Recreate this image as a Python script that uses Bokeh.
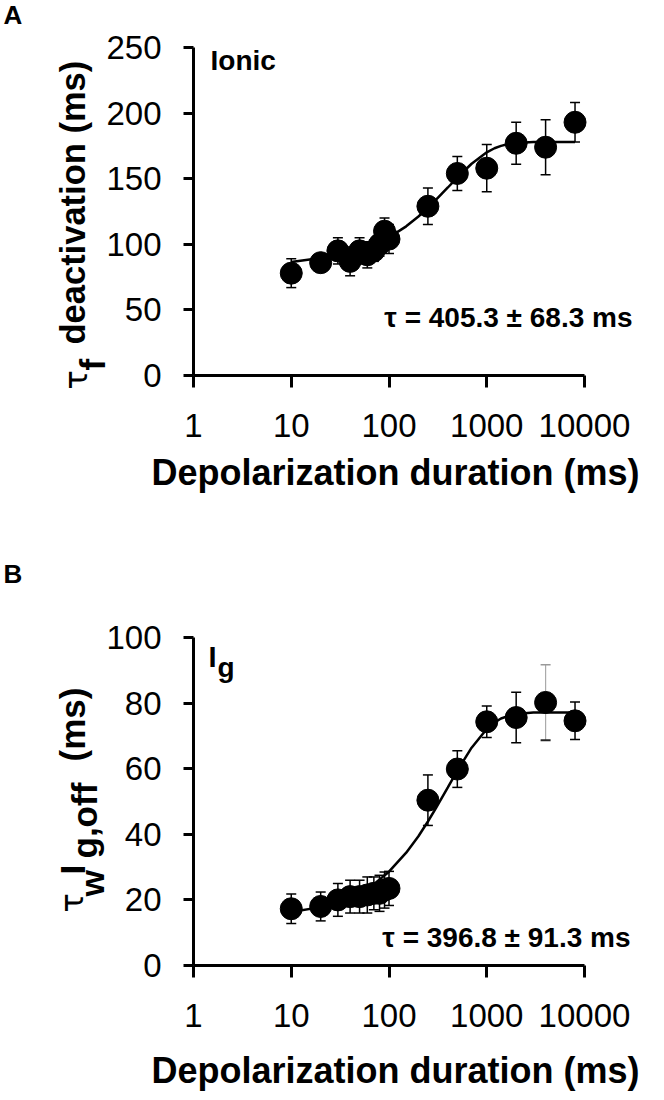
import math
from bokeh.plotting import figure
from bokeh.models import ColumnDataSource, Whisker, TeeHead, Label, FixedTicker
from bokeh.layouts import column
from bokeh.embed import file_html
from bokeh.resources import INLINE

# ---------------- data ----------------
durations = [10, 20, 30, 40, 50, 60, 70, 80, 90, 100, 250, 500, 1000, 2000, 4000, 8000]

tau_f_mean = [78, 86, 95, 87, 95, 92, 95, 100, 110, 104, 129, 154, 158, 177, 174, 193]
tau_f_err = [11, 6, 10, 11, 10, 10, 8, 9, 10, 11, 14, 13, 18, 16, 21, 15]

tau_w_mean = [17.3, 18, 20, 21, 21, 21.5, 22, 22, 23, 23.5, 50.4, 59.9, 74.3, 75.6, 80.2, 74.6]
tau_w_err = [4.5, 4.4, 5, 5, 5, 5.5, 5, 5.5, 5.5, 5.2, 7.7, 5.6, 4.8, 7.7, 11.5, 5.7]

fit_x = [10, 20, 40, 70, 100, 150, 200, 250, 300, 400, 500, 700, 1000, 1200, 1400, 1700, 2000, 3000, 8000]
fit_A = [86.5, 89.5, 93.7, 99.7, 105.3, 113.7, 121.2, 127.8, 133.6, 143.3, 150.9, 161.4, 170.1,
         173.2, 175.0, 176.6, 177.3, 177.9, 178.0]
fit_B = [16.3, 17.8, 20.7, 24.8, 28.6, 34.4, 39.4, 43.9, 47.8, 54.3, 59.4, 66.4, 72.1,
         74.1, 75.3, 76.2, 76.7, 77.1, 77.1]

x_ticks = [1, 10, 100, 1000, 10000]
x_tick_labels = ["1", "10", "100", "1000", "10000"]
yA_ticks = [0, 50, 100, 150, 200, 250]
yB_ticks = [0, 20, 40, 60, 80, 100]

FONT = "Liberation Sans"
GREEK_FONT = "DejaVu Sans"
PAGE_W = 660

# axis geometry in page pixels
AX_L, AX_R = 193, 584          # x = 1 and x = 10000
DECADE = (AX_R - AX_L) / 4.0
FRAME_H = 328


def make_panel(fig_top, fig_h, axis_bottom, ymax, yticks):
    """Figure whose frame is the whole canvas; axes are pinned inside it."""
    x0 = 10 ** ((0 - AX_L) / DECADE)
    x1 = 10 ** ((PAGE_W - AX_L) / DECADE)
    y_of = lambda py: ymax * (axis_bottom - py) / FRAME_H
    p = figure(width=PAGE_W, height=fig_h, x_axis_type="log",
               x_range=(x0, x1), y_range=(y_of(fig_top + fig_h), y_of(fig_top)),
               output_backend="svg", toolbar_location=None,
               min_border=0)
    p.outline_line_color = None
    p.grid.visible = False
    p.background_fill_color = "white"
    p.border_fill_color = "white"

    for ax in (p.xaxis[0], p.yaxis[0]):
        ax.axis_line_width = 3
        ax.major_tick_line_width = 3
        ax.major_tick_in = 0
        ax.minor_tick_line_color = None
        ax.major_label_text_font = FONT
        ax.major_label_text_font_size = "33px"
        ax.major_label_text_color = "black"
        ax.axis_line_color = "black"
        ax.major_tick_line_color = "black"
    xa, ya = p.xaxis[0], p.yaxis[0]
    xa.ticker = FixedTicker(ticks=x_ticks)
    xa.major_label_overrides = {float(t): l for t, l in zip(x_ticks, x_tick_labels)}
    xa.major_tick_out = 12
    xa.major_label_standoff = 26
    xa.bounds = (x_ticks[0], x_ticks[-1])
    xa.fixed_location = 0
    ya.ticker = FixedTicker(ticks=yticks)
    ya.major_tick_out = 10
    ya.major_label_standoff = 22
    ya.bounds = (yticks[0], yticks[-1])
    ya.fixed_location = x_ticks[0]

    def to_data(px, py):
        return 10 ** ((px - AX_L) / DECADE), y_of(py)

    return p, to_data


def add_text(p, to_data, px, py, text, size, bold=True, align="left", angle=0.0,
             font=FONT):
    x, y = to_data(px, py)
    p.add_layout(Label(x=x, y=y, text=text, text_font=font,
                       text_font_size=f"{size}px",
                       text_font_style="bold" if bold else "normal",
                       text_align=align, text_baseline="middle",
                       angle=angle, text_color="black"))


def add_data(p, means, errs, fit_y, gray_idx=None):
    idx_black = [i for i in range(len(durations)) if i != gray_idx]
    src = ColumnDataSource(data=dict(
        x=[durations[i] for i in idx_black],
        lo=[means[i] - errs[i] for i in idx_black],
        hi=[means[i] + errs[i] for i in idx_black]))
    p.add_layout(Whisker(source=src, base="x", lower="lo", upper="hi",
                         line_color="black", line_width=1.5, level="underlay",
                         upper_head=TeeHead(size=10, line_width=1.5, line_color="black"),
                         lower_head=TeeHead(size=10, line_width=1.5, line_color="black")))
    if gray_idx is not None:
        i = gray_idx
        src2 = ColumnDataSource(data=dict(x=[durations[i]], lo=[means[i] - errs[i]],
                                          hi=[means[i] + errs[i]]))
        p.add_layout(Whisker(source=src2, base="x", lower="lo", upper="hi",
                             line_color="#aaaaaa", line_width=1.2, level="underlay",
                             upper_head=TeeHead(size=10, line_width=1.5, line_color="#999999"),
                             lower_head=TeeHead(size=10, line_width=2, line_color="#222222")))
    p.line(fit_x, fit_y, line_color="black", line_width=2.5)
    p.scatter(durations, means, size=22, marker="circle", fill_color="black",
              line_color="black")


PI2 = math.pi / 2

# ---------------- panel A ----------------
A_TOP, A_H = 0, 550
pA, dA = make_panel(A_TOP, A_H, 375, 250, yA_ticks)
add_data(pA, tau_f_mean, tau_f_err, fit_A)
add_text(pA, dA, 3, 14, "A", 26)
add_text(pA, dA, 210, 60, "Ionic", 28)
add_text(pA, dA, 632, 317, "τ = 405.3 ± 68.3 ms", 28, align="right")
add_text(pA, dA, 395, 472, "Depolarization duration (ms)", 36, align="center")
add_text(pA, dA, 75, 389, "τ", 32, bold=False, angle=PI2, font=GREEK_FONT)
add_text(pA, dA, 92, 370, "f", 35, angle=PI2)
add_text(pA, dA, 72, 344, "deactivation (ms)", 34.5, angle=PI2)

# ---------------- panel B ----------------
B_TOP, B_H = 550, 546
pB, dB = make_panel(B_TOP, B_H, 965, 100, yB_ticks)
add_data(pB, tau_w_mean, tau_w_err, fit_B, gray_idx=14)
add_text(pB, dB, 3, 573, "B", 26)
add_text(pB, dB, 208, 656, "I", 29)
add_text(pB, dB, 217, 667, "g", 28)
add_text(pB, dB, 630, 937, "τ = 396.8 ± 91.3 ms", 28, align="right")
add_text(pB, dB, 395, 1070, "Depolarization duration (ms)", 36, align="center")
add_text(pB, dB, 71, 912, "τ", 32, bold=False, angle=PI2, font=GREEK_FONT)
add_text(pB, dB, 91, 896, "w", 34, angle=PI2)
add_text(pB, dB, 72, 874, "I", 35, angle=PI2)
add_text(pB, dB, 84, 858, "g,off", 35, angle=PI2)
add_text(pB, dB, 72, 761, "(ms)", 35, angle=PI2)

layout = column(pA, pB, spacing=0)
open("out.html", "w").write(file_html(layout, INLINE))
